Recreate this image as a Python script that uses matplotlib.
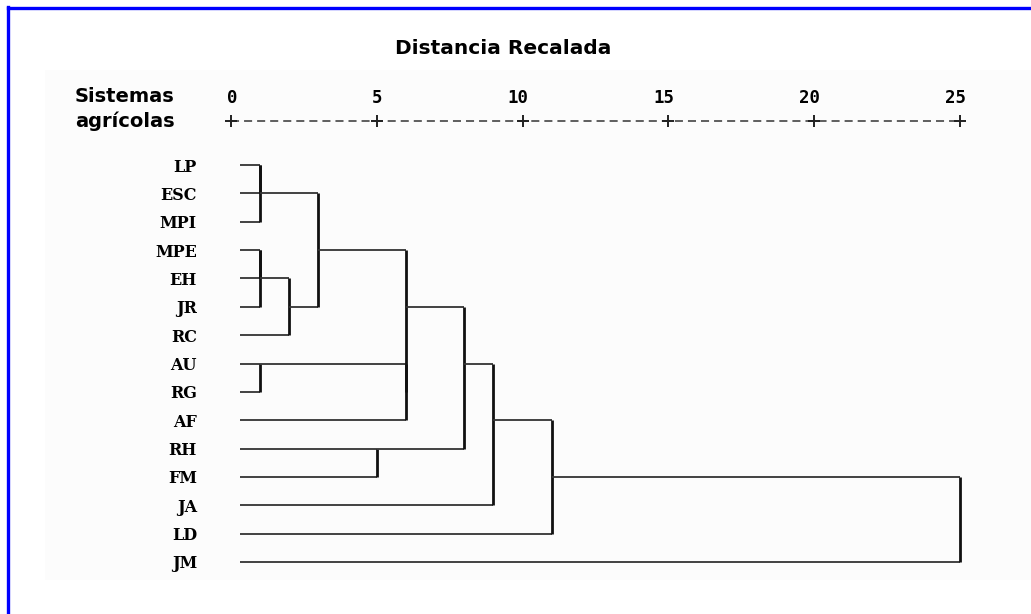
import matplotlib.pyplot as plt
import matplotlib.transforms as mtransforms
from matplotlib.patches import Rectangle
from matplotlib.lines import Line2D

plt.rcParams["lines.scale_dashes"] = False

# Leaves in display order (top to bottom)
leaves = ["LP", "ESC", "MPI", "MPE", "EH", "JR", "RC", "AU", "RG",
          "AF", "RH", "FM", "JA", "LD", "JM"]

# Agglomeration steps: (cluster a, cluster b, rescaled distance)
# new cluster ids continue after the leaves (15, 16, ...)
merges = [
    (0, 1, 1),     # 15 LP + ESC
    (15, 2, 1),    # 16 + MPI
    (3, 4, 1),     # 17 MPE + EH
    (17, 5, 1),    # 18 + JR
    (18, 6, 2),    # 19 + RC
    (16, 19, 3),   # 20
    (7, 8, 1),     # 21 AU + RG
    (21, 9, 6),    # 22 + AF
    (20, 22, 6),   # 23
    (10, 11, 5),   # 24 RH + FM
    (23, 24, 8),   # 25
    (25, 12, 9),   # 26 + JA
    (26, 13, 11),  # 27 + LD
    (27, 14, 25),  # 28 + JM
]

ticks = [0, 5, 10, 15, 20, 25]
LEAF_X0 = 0.3

W, H = 1031, 614
fig = plt.figure(figsize=(W / 100, H / 100), dpi=100)
fig.patch.set_facecolor("white")

# very faint grey panel behind the chart
fig.add_artist(Rectangle((45 / W, 1 - 580 / H), (W - 45) / W, (580 - 70) / H,
                         transform=fig.transFigure, facecolor="#fcfcfc",
                         edgecolor="none", zorder=0))

ax = fig.add_axes([231 / W, 1 - 562 / H, (960 - 231) / W, (562 - 165) / H])
ax.set_xlim(0, 25)
ax.set_ylim(len(leaves) - 1, 0)
ax.patch.set_visible(False)
for s in ax.spines.values():
    s.set_visible(False)
ax.set_xticks([])
ax.set_yticks(range(len(leaves)))
ax.set_yticklabels(leaves, family="DejaVu Serif", weight="bold", size=11.5)
ax.tick_params(axis="y", length=0, pad=24.5)

# dendrogram links
rows = list(range(len(leaves)))
xs = [LEAF_X0] * len(leaves)
for a, b, d in merges:
    for c in (a, b):
        ax.plot([xs[c], d], [rows[c], rows[c]], color="#333333", lw=1.3,
                solid_capstyle="butt", clip_on=False)
    ax.plot([d, d], [rows[a], rows[b]], color="#111111", lw=2.0,
            solid_capstyle="butt", clip_on=False)
    rows.append((rows[a] + rows[b]) // 2)
    xs.append(d)

# text-style distance scale: "+---------+"
xtr = ax.get_xaxis_transform()
off = mtransforms.ScaledTranslation(6 / 100, 0, fig.dpi_scale_trans)
for t in ticks:
    ax.text(t, 1.169, str(t), transform=xtr + off, ha="right", va="center",
            family="DejaVu Sans Mono", weight="bold", size=12.5, clip_on=False)
ax.plot([ticks[0], ticks[-1]], [1.111, 1.111], transform=xtr, color="#444444",
        lw=1.2, ls=(0, (5.8, 3.6)), clip_on=False)
ax.plot(ticks, [1.111] * len(ticks), transform=xtr, ls="none", marker="+",
        ms=8, mew=1.4, color="#222222", clip_on=False)

fig.text(503 / W, 1 - 48 / H, "Distancia Recalada", ha="center", va="center",
         size=14.5, weight="bold")
fig.text(75 / W, 1 - 97 / H, "Sistemas", ha="left", va="center",
         size=14, weight="bold")
fig.text(75 / W, 1 - 121 / H, "agrícolas", ha="left", va="center",
         size=14, weight="bold")

# blue frame along top and left edges
fig.add_artist(Line2D([7.5 / W, 1], [1 - 8.3 / H, 1 - 8.3 / H],
                      transform=fig.transFigure, color="#0000ff", lw=2.4))
fig.add_artist(Line2D([7.5 / W, 7.5 / W], [1 - 7 / H, 0],
                      transform=fig.transFigure, color="#0000ff", lw=2.4))

fig.savefig("out.png", dpi=100)
